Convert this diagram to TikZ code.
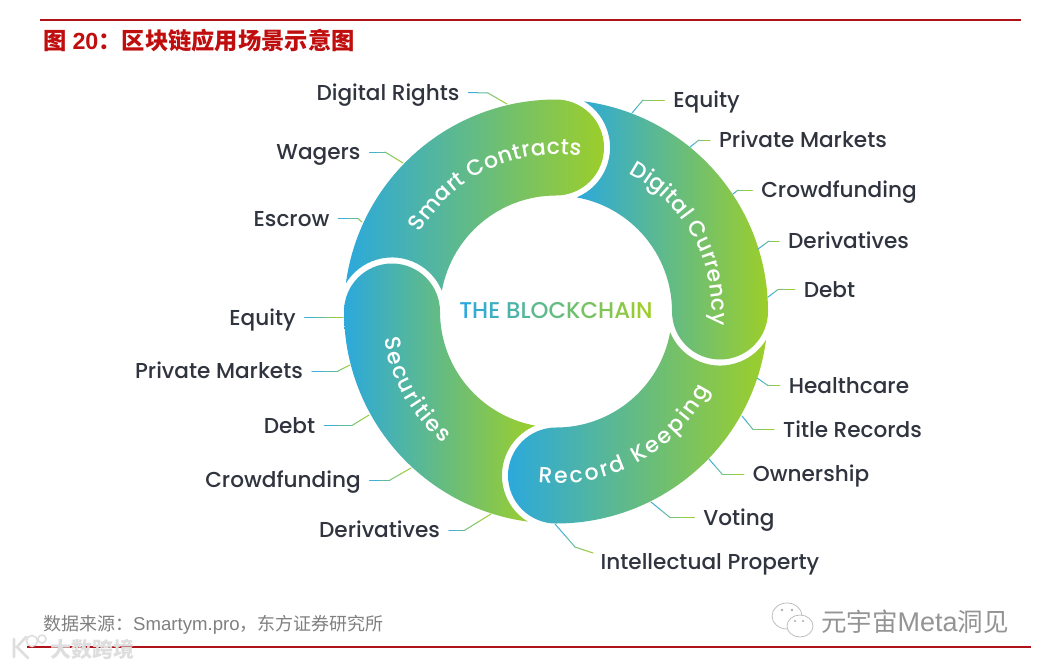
\documentclass[tikz,border=0pt]{standalone}
\usepackage{fontspec}
\setmainfont{Poppins Medium}
\newfontfamily\cjk{Noto Sans CJK SC}
\newfontfamily\lib{Liberation Sans}
\usetikzlibrary{calc,decorations.text}
\definecolor{rblue}{HTML}{2CA9DC}
\definecolor{rgreen}{HTML}{9CCE2A}
\definecolor{labink}{HTML}{30343F}
\definecolor{rulered}{HTML}{B0121A}
\definecolor{titlered}{HTML}{C00D0D}
\definecolor{lA}{HTML}{3FAFD5}
\definecolor{lB}{HTML}{5FBAA5}
\definecolor{lC}{HTML}{7FC470}
\definecolor{lD}{HTML}{97CC3C}
\newcommand\labfont{\fontsize{21.6}{25}\selectfont}
\newcommand\ringfont{\fontsize{22}{26}\selectfont}
\tikzset{
  ringshade/.style={left color=rblue,right color=rgreen,draw=none},
  labelnode/.style={font=\labfont,text=labink,inner sep=0pt,outer sep=9pt,text height=15pt,text depth=0pt},
  leaderline/.style={line width=1pt,line cap=round},
  ruleline/.style={line width=2pt,rulered},
}
\newcommand\ringseg[1]{%
  \shade[ringshade] ($(556,-311.5)+({172.4+#1}:212)$)
    arc[start angle={172.4+#1},end angle={90+#1},radius=212]
    arc[start angle={90+#1},end angle={-90+#1},radius=48]
    arc[start angle={90+#1},end angle={169.7+#1},radius=116]
    arc[start angle={22.5+#1},end angle={148.7+#1},radius=54] -- cycle;}
% text on ring: start angle, end angle, radius, text
\newcommand\ringtext[4]{%
  \path[decorate,decoration={text along path,text align={fit to path},
    text={|\ringfont\color{white}|#4}}]
    ($(556,-311.5)+({#1}:#3)$) arc[start angle={#1},end angle={#2},radius=#3];}
% leader, always left to right: A -- B -- C
\newcommand\leader[3]{%
  \draw[leaderline,lA] (#1) -- ($(#1)!.5!(#2)$);
  \draw[leaderline,lB] ($(#1)!.5!(#2)$) -- (#2);
  \draw[leaderline,lC] (#2) -- ($(#2)!.5!(#3)$);
  \draw[leaderline,lD] ($(#2)!.5!(#3)$) -- (#3);}
% left label: name, x, y, text, bend, ring end
\newcommand\leftlab[6]{%
  \node[labelnode] (#1) at (#2,#3) {#4};
  \coordinate (#1-b) at (#5);
  \coordinate (#1-e) at (#6);
  \leader{#1.east}{#1-b}{#1-e}}
\newcommand\rightlab[6]{%
  \node[labelnode] (#1) at (#2,#3) {#4};
  \coordinate (#1-b) at (#5);
  \coordinate (#1-e) at (#6);
  \leader{#1-e}{#1-b}{#1.west}}
\begin{document}
\begin{tikzpicture}[x=1pt,y=1pt]
\useasboundingbox (0,0) rectangle (1043,-667);
\fill[white] (0,0) rectangle (1043,-667);
% rules
\coordinate (topL) at (40,-19.5); \coordinate (topR) at (1021,-19.5);
\coordinate (botL) at (27,-647); \coordinate (botR) at (1031,-647);
\draw[ruleline] (topL) -- (topR);
\draw[ruleline] (botL) -- (botR);
% title + source
\node[anchor=west,inner sep=0pt,text=titlered] (title) at (43,-41)
  {\fontsize{23.3}{26}\selectfont\bfseries\cjk 图\hspace{6pt}{\lib\bfseries 20}：区块链应用场景示意图};
\node[anchor=west,inner sep=0pt,text=black!50] (source) at (43,-625)
  {\fontsize{18}{22}\selectfont\cjk 数据来源：{\lib\fontsize{18.6}{22}\selectfont Smartym.pro}，东方证券研究所};
% ring
\ringseg{0}
\ringseg{-90}
\ringseg{-180}
\ringseg{90}
\ringtext{150}{81}{157}{Smart Contracts}
\ringtext{62.4}{-5}{156}{Digital Currency}
\ringtext{264}{333}{172}{Record Keeping}
\ringtext{189}{229.5}{174}{Securities}
% centre
\node[inner sep=0pt,font=\fontsize{22.8}{26}\selectfont] (chain) at (556,-311)
 {\textcolor{rgreen!0!rblue}{T}\textcolor{rgreen!8!rblue}{H}\textcolor{rgreen!16!rblue}{E}\ \textcolor{rgreen!28!rblue}{B}\textcolor{rgreen!36!rblue}{L}\textcolor{rgreen!44!rblue}{O}\textcolor{rgreen!52!rblue}{C}\textcolor{rgreen!60!rblue}{K}\textcolor{rgreen!68!rblue}{C}\textcolor{rgreen!76!rblue}{H}\textcolor{rgreen!84!rblue}{A}\textcolor{rgreen!92!rblue}{I}\textcolor{rgreen!100!rblue}{N}};
% left labels
\leftlab{rights}{388}{-92.5}{Digital Rights}{488,-93}{507,-104}
\leftlab{wagers}{318.5}{-152}{Wagers}{385,-152}{403,-163}
\leftlab{escrow}{291.5}{-218.5}{Escrow}{358,-218.5}{362,-222}
\leftlab{lequity}{262.5}{-317.5}{Equity}{325,-317.5}{343,-317.5}
\leftlab{lprivate}{219}{-371}{Private Markets}{338,-371}{350,-365}
\leftlab{ldebt}{289.5}{-425.5}{Debt}{352,-425.5}{369,-415}
\leftlab{lcrowd}{283}{-480}{Crowdfunding}{390,-480}{411,-468}
\leftlab{lderiv}{379.5}{-530}{Derivatives}{465,-530}{491,-514}
% right labels
\rightlab{requity}{706.5}{-100}{Equity}{643,-100}{632,-113}
\rightlab{rprivate}{803}{-140}{Private Markets}{699,-140}{690,-147}
\rightlab{rcrowd}{839}{-190}{Crowdfunding}{738,-190}{733,-194}
\rightlab{rderiv}{848.5}{-241}{Derivatives}{769,-241}{758,-249}
\rightlab{rdebt}{829.5}{-289.5}{Debt}{778,-289.5}{768,-297}
\rightlab{health}{849}{-385.5}{Healthcare}{768,-385.5}{757,-378}
\rightlab{title2}{852.5}{-429.5}{Title Records}{753,-429.5}{742,-416}
\rightlab{owner}{811}{-474}{Ownership}{722,-474}{709,-459}
\rightlab{voting}{739}{-517.5}{Voting}{670,-517.5}{651,-502}
% intellectual property: leader ends above-left of the label
\node[labelnode] (ip) at (710,-562) {Intellectual Property};
\coordinate (ip-s) at (555,-524);
\coordinate (ip-b) at (575,-547);
\coordinate (ip-e) at (593,-553);
\leader{ip-s}{ip-b}{ip-e}
% wechat mark
\coordinate (wa) at (787,-616);
\coordinate (wb) at (800,-626);
\draw[black!28,line width=.7pt,fill=white] (wa) ellipse[x radius=15,y radius=13];
\draw[black!28,line width=.7pt,fill=white] (wb) ellipse[x radius=13,y radius=11];
\fill[black!32] (782,-610) circle[radius=1.3] (792,-610) circle[radius=1.3] (795,-621) circle[radius=1.2] (803,-621) circle[radius=1.2];
\node[anchor=west,inner sep=0pt,text=black!42] (meta) at (821,-622)
  {\fontsize{25.5}{28}\selectfont\cjk 元宇宙{\lib\fontsize{27}{28}\selectfont Meta}洞见};
% corner watermark
\draw[black!13,line width=2.6pt,line cap=round] (14,-639) -- (14,-657) (26,-637) -- (17,-647) -- (28,-658);
\draw[black!13,line width=1.5pt] (32,-641) circle[radius=5.5] (42,-639) circle[radius=4];
\node[anchor=west,inner sep=0pt,text=black!13] (mark) at (50,-649)
  {\fontsize{21}{25}\selectfont\bfseries\cjk 大数跨境};
\end{tikzpicture}
\end{document}
